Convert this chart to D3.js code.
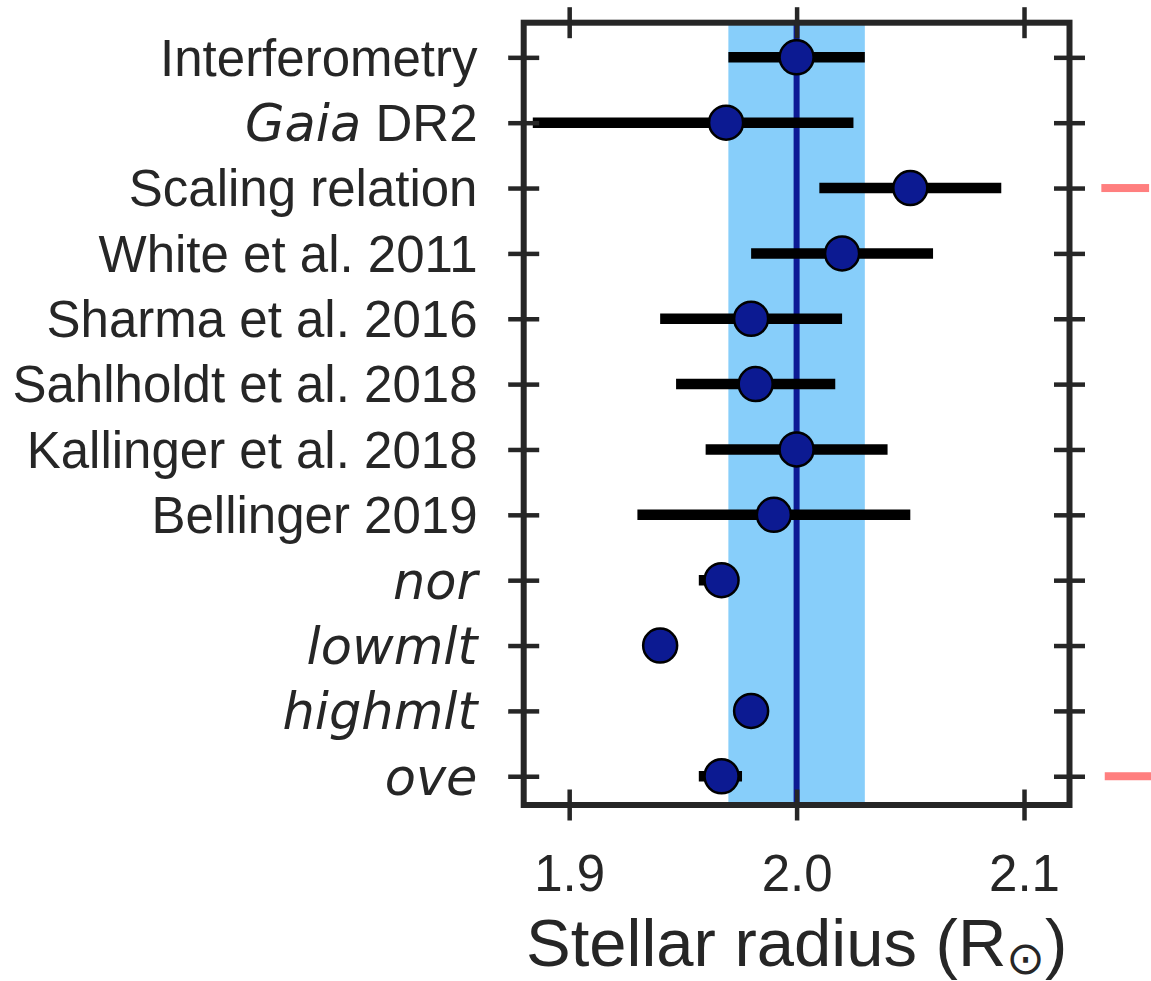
<!DOCTYPE html>
<html>
<head>
<meta charset="utf-8">
<script src="https://cdn.jsdelivr.net/npm/d3@7/dist/d3.min.js"></script>
<style>
  html, body { margin: 0; padding: 0; background: #ffffff; }
  svg { display: block; }
</style>
</head>
<body>
<svg id="chart" width="1151" height="981"></svg>
<script>
// Radius estimates (solar radii), one row per method, top to bottom
const methods = [
  "Interferometry", "Gaia DR2", "Scaling relation", "White et al. 2011",
  "Sharma et al. 2016", "Sahlholdt et al. 2018", "Kallinger et al. 2018",
  "Bellinger 2019", "nor", "lowmlt", "highmlt", "ove"
];
const radius  = [2.000, 1.969, 2.050, 2.020, 1.980, 1.982, 2.000, 1.990, 1.967, 1.940, 1.980, 1.967];
const radLow  = [1.970, 1.884, 2.010, 1.980, 1.940, 1.947, 1.960, 1.930, 1.957, 1.940, 1.980, 1.957];
const radHigh = [2.030, 2.025, 2.090, 2.060, 2.020, 2.017, 2.040, 2.050, 1.974, 1.940, 1.980, 1.976];

// Words typeset in italics inside the row labels
const italicWords = ["Gaia"];
// Model-grid rows whose whole label is set as math italic
const mathItalicRows = ["nor", "lowmlt", "highmlt", "ove"];

// Interferometric reference value and its 1-sigma band
const refValue = 2.00;
const refBand = [1.97, 2.03];

// X-axis ticks
const xTicks = [1.9, 2.0, 2.1];
const xDomain = [1.88, 2.12];

// Short salmon segments beyond the right edge of the frame
const sideMarks = [
  { row: "Scaling relation", lo: 2.134, hi: 2.155 },
  { row: "ove",              lo: 2.1355, hi: 2.157 }
];

const svg = d3.select("#chart");
const frame = { left: 523.7, right: 1069.5, top: 22.7, bottom: 805 };
const ink = "#262626";
const sansFont = "'Liberation Sans', Arial, sans-serif";
const mathFont = "'DejaVu Sans', sans-serif";
const fontSize = 51;

const x = d3.scaleLinear().domain(xDomain).range([frame.left, frame.right]);
const y = d3.scaleLinear().domain([-0.53, methods.length - 0.56]).range([frame.top, frame.bottom]);

const rows = methods.map((m, i) => ({
  name: m, i, value: radius[i], lo: radLow[i], hi: radHigh[i]
}));

// Reference band and line
svg.append("rect")
  .attr("x", x(refBand[0]))
  .attr("y", frame.top)
  .attr("width", x(refBand[1]) - x(refBand[0]))
  .attr("height", frame.bottom - frame.top)
  .attr("fill", "#87CEFA");

svg.append("line")
  .attr("x1", x(refValue)).attr("x2", x(refValue))
  .attr("y1", frame.top).attr("y2", frame.bottom)
  .attr("stroke", "#0d1a94")
  .attr("stroke-width", 6);

// Error bars
svg.append("g").selectAll("line")
  .data(rows.filter(d => d.hi > d.lo))
  .join("line")
  .attr("x1", d => x(d.lo))
  .attr("x2", d => x(d.hi))
  .attr("y1", d => y(d.i))
  .attr("y2", d => y(d.i))
  .attr("stroke", "#000")
  .attr("stroke-width", 10.5);

// Point estimates
svg.append("g").selectAll("circle")
  .data(rows)
  .join("circle")
  .attr("cx", d => x(d.value))
  .attr("cy", d => y(d.i))
  .attr("r", 17)
  .attr("fill", "#0c1a92")
  .attr("stroke", "#000")
  .attr("stroke-width", 2.5);

// Frame
svg.append("rect")
  .attr("x", frame.left).attr("y", frame.top)
  .attr("width", frame.right - frame.left)
  .attr("height", frame.bottom - frame.top)
  .attr("fill", "none")
  .attr("stroke", ink)
  .attr("stroke-width", 6)
  .attr("stroke-linejoin", "miter");

// Ticks crossing the frame on all four sides
const tickHalf = 15.5;
const styleTicks = g => {
  g.select(".domain").remove();
  g.selectAll(".tick line").attr("stroke", ink).attr("stroke-width", 4.5);
};

const gLeft = svg.append("g")
  .attr("transform", `translate(${frame.left},0)`)
  .call(d3.axisLeft(y).tickValues(rows.map(d => d.i)).tickSize(0).tickPadding(0).tickFormat(() => ""));
styleTicks(gLeft);
gLeft.selectAll(".tick line").attr("x1", -tickHalf).attr("x2", tickHalf);
gLeft.selectAll(".tick text").remove();

const gRight = svg.append("g")
  .attr("transform", `translate(${frame.right},0)`)
  .call(d3.axisRight(y).tickValues(rows.map(d => d.i)).tickSize(0).tickFormat(() => ""));
styleTicks(gRight);
gRight.selectAll(".tick line").attr("x1", -tickHalf).attr("x2", tickHalf);
gRight.selectAll(".tick text").remove();

const gTop = svg.append("g")
  .attr("transform", `translate(0,${frame.top})`)
  .call(d3.axisTop(x).tickValues(xTicks).tickSize(0).tickFormat(() => ""));
styleTicks(gTop);
gTop.selectAll(".tick line").attr("y1", -tickHalf).attr("y2", tickHalf);
gTop.selectAll(".tick text").remove();

const gBottom = svg.append("g")
  .attr("transform", `translate(0,${frame.bottom})`)
  .call(d3.axisBottom(x).tickValues(xTicks).tickSize(0).tickPadding(0).tickFormat(d3.format(".1f")));
styleTicks(gBottom);
gBottom.selectAll(".tick line").attr("y1", -tickHalf).attr("y2", tickHalf);
gBottom.selectAll(".tick text")
  .attr("y", 86)
  .attr("dy", null)
  .attr("fill", ink)
  .attr("font-family", sansFont)
  .attr("font-size", fontSize);

// Row labels, with italic words where the label calls for them
const labelG = svg.append("g");
rows.forEach(d => {
  const t = labelG.append("text")
    .attr("x", 477.5)
    .attr("y", y(d.i))
    .attr("dy", "0.36em")
    .attr("text-anchor", "end")
    .attr("fill", ink)
    .attr("font-size", fontSize);
  if (mathItalicRows.includes(d.name)) {
    t.attr("font-family", mathFont).attr("font-style", "italic").text(d.name);
    return;
  }
  t.attr("font-family", sansFont);
  d.name.split(" ").forEach((word, k) => {
    const italic = italicWords.includes(word);
    t.append("tspan")
      .attr("font-family", italic ? mathFont : sansFont)
      .attr("font-style", italic ? "italic" : "normal")
      .text((k > 0 ? " " : "") + word);
  });
});

// X-axis title with the solar symbol as a subscript
const title = svg.append("text")
  .attr("x", (frame.left + frame.right) / 2)
  .attr("y", 966)
  .attr("text-anchor", "middle")
  .attr("fill", ink)
  .attr("font-family", sansFont)
  .attr("font-size", 67);
title.append("tspan").text("Stellar radius (R");
title.append("tspan")
  .attr("font-family", mathFont)
  .attr("font-size", 46)
  .attr("dy", 8)
  .text("\u2299");
title.append("tspan").attr("dy", -8).text(")");

// Salmon segments outside the frame
svg.append("g").selectAll("rect")
  .data(sideMarks)
  .join("rect")
  .attr("x", d => x(d.lo))
  .attr("width", d => x(d.hi) - x(d.lo))
  .attr("y", d => y(methods.indexOf(d.row)) - 4)
  .attr("height", 8)
  .attr("fill", "#ff7f7f");
</script>
</body>
</html>
